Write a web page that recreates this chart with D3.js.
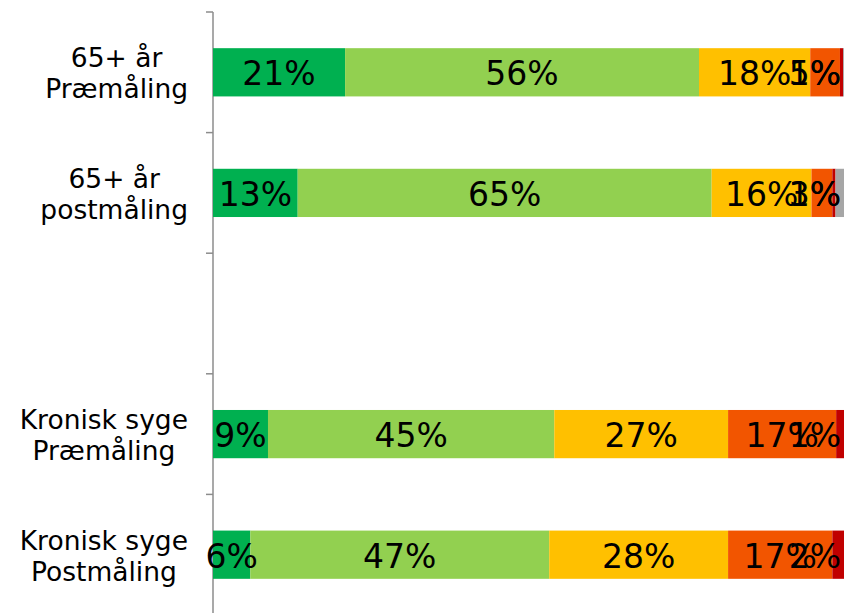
<!DOCTYPE html>
<html><head><meta charset="utf-8">
<script src="https://cdn.jsdelivr.net/npm/d3@7"></script>
<style>body{margin:0;background:#fff}svg{display:block}</style>
</head><body>
<script>
const categories = [["65+ år","Præmåling"],["65+ år","postmåling"],[],["Kronisk syge","Præmåling"],["Kronisk syge","Postmåling"]];
const catKeys = ["r1","r2","gap","r4","r5"];
const seriesNames = ["s1","s2","s3","s4","s5","s6"];
const seriesColors = ["#00B050","#92D050","#FFC000","#F25500","#C00000","#A6A6A6"];
const values = [
  [20.9, 56.0, 17.6, 4.7, 0.5, 0.3],
  [13.4, 65.5, 15.8, 3.3, 0.5, 1.5],
  [],
  [8.7, 45.3, 27.5, 17.1, 1.4, 0],
  [5.9, 47.3, 28.3, 16.5, 2.0, 0]
];
const labels = [
  ["21%","56%","18%","5%","1%",""],
  ["13%","65%","16%","3%","","1%"],
  [],
  ["9%","45%","27%","17%","1%",""],
  ["6%","47%","28%","17%","2%",""]
];

const W=844,H=613;
const svg=d3.select("body").append("svg").attr("width",W).attr("height",H);
const x=d3.scaleLinear().domain([0,100]).range([213,845]);
const y=d3.scaleBand().domain(catKeys).range([12,615]).paddingInner(0.6).paddingOuter(0.3);

// axis
const ax=svg.append("g").attr("stroke","#8c8c8c").attr("stroke-width",1.5);
ax.append("line").attr("x1",213).attr("x2",213).attr("y1",12).attr("y2",H+5);
const gapH=(y.step()-y.bandwidth())/2;
const tickYs=catKeys.map(k=>y(k)-gapH).concat([y(catKeys[catKeys.length-1])+y.bandwidth()+gapH]);
tickYs.forEach(t=>ax.append("line").attr("x1",206).attr("x2",213).attr("y1",t).attr("y2",t));

// bars
catKeys.forEach((k,i)=>{
  const vals=values[i]; if(!vals.length) return;
  let acc=0;
  const g=svg.append("g");
  const segs=vals.map((v,j)=>{const s={x0:acc,x1:acc+v,j};acc+=v;return s;});
  g.selectAll("rect").data(segs).join("rect")
    .attr("x",d=>x(d.x0)).attr("width",d=>Math.max(0,x(d.x1)-x(d.x0)))
    .attr("y",y(k)).attr("height",y.bandwidth())
    .attr("fill",d=>seriesColors[d.j]);
  segs.forEach(d=>{
    const lab=labels[i][d.j]; if(!lab) return;
    const t=g.append("text").text(lab)
      .attr("font-family","DejaVu Sans, Verdana, sans-serif").attr("font-size",33)
      .attr("fill","#000").attr("y",y(k)+y.bandwidth()/2+13);
    const w=t.node().getComputedTextLength();
    let cx=(x(d.x0)+x(d.x1))/2;
    if(cx+w/2>841) cx=841-w/2;
    t.attr("x",cx).attr("text-anchor","middle");
  });
});

// category labels
catKeys.forEach((k,i)=>{
  const lines=categories[i]; if(!lines.length) return;
  const g=svg.append("g");
  const cy=y(k)+y.bandwidth()/2;
  const ts=lines.map((l,n)=>g.append("text").text(l)
    .attr("font-family","DejaVu Sans, Verdana, sans-serif").attr("font-size",26.5)
    .attr("fill","#000").attr("text-anchor","middle")
    .attr("y",cy-5+n*31));
  const mw=d3.max(ts,t=>t.node().getComputedTextLength());
  ts.forEach(t=>t.attr("x",188-mw/2));
});
</script>
</body></html>
